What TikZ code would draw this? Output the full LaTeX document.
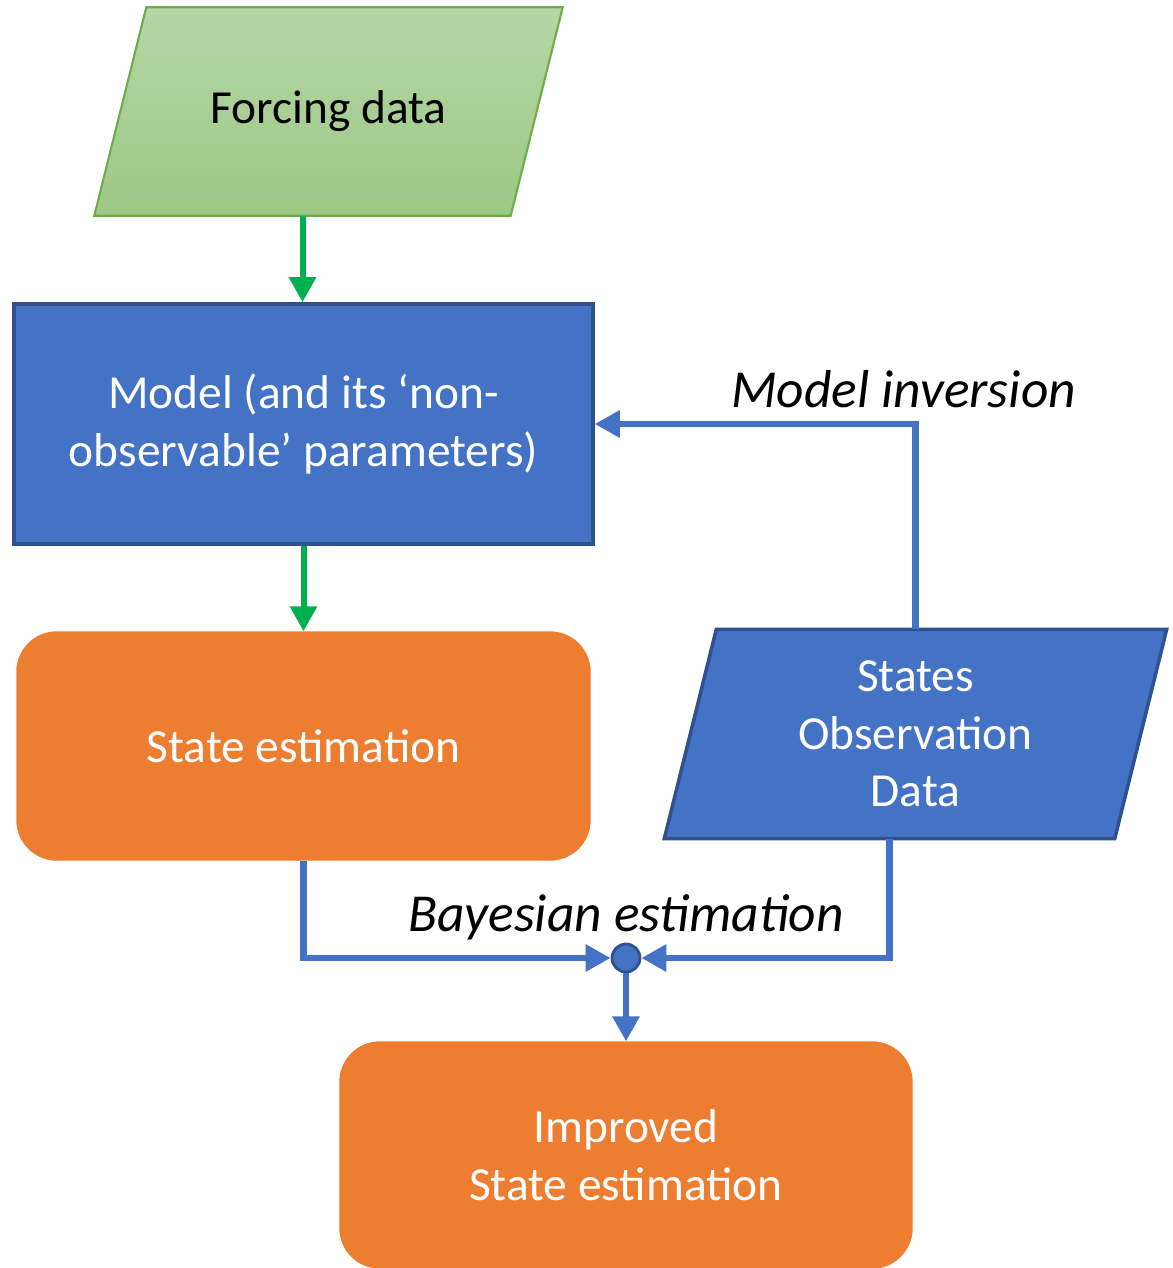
\documentclass[tikz,border=0pt]{standalone}
\usepackage{fontspec}
\setmainfont{Carlito}
\usetikzlibrary{arrows.meta, backgrounds}
\definecolor{daBlue}{HTML}{4472C4}
\definecolor{daBlueEdge}{HTML}{2F528F}
\definecolor{daOrange}{HTML}{ED7D31}
\definecolor{daGreen}{HTML}{00B050}
\definecolor{daLeafTop}{HTML}{B5D6A6}
\definecolor{daLeafBottom}{HTML}{9DC885}
\definecolor{daLeafEdge}{HTML}{70AD47}
\tikzset{
    daBoxBase/.style={
        rectangle,
        font=\fontsize{13.5}{16.4}\selectfont,
        align=center,
        inner sep=4pt
    },
    % Semantic Variants
    forcingFill/.style={top color=daLeafTop, bottom color=daLeafBottom, draw=daLeafEdge, line width=0.6pt},
    observedFill/.style={fill=daBlue, draw=daBlueEdge, line width=1pt},
    data/.style={daBoxBase},
    observed/.style={daBoxBase, text=white},
    model/.style={daBoxBase, fill=daBlue, draw=daBlueEdge, line width=1pt, text=white},
    estimate/.style={daBoxBase, rounded corners=0.4cm, fill=daOrange, draw=daOrange, text=white},
    junction/.style={circle, fill=daBlue, draw=daBlueEdge, line width=0.8pt, minimum size=0.28cm, inner sep=0pt},
    % Arrows
    daArrowBase/.style={-{Triangle[length=0.25cm, width=0.26cm]}},
    daLabel/.style={font=\fontsize{15.2}{18}\selectfont\itshape, inner sep=2pt}
}

\begin{document}
\begin{tikzpicture}[
    feed/.style={daArrowBase, draw=daGreen, line width=0.06cm},
    link/.style={daArrowBase, draw=daBlue, line width=0.065cm}
]
\useasboundingbox (0,0) rectangle (11.72,-12.68);

\node[data, minimum width=4.67cm, minimum height=2.07cm] (forcing) at (3.285,-1.115) {Forcing data};
\node[model, minimum width=5.79cm, minimum height=2.40cm] (model) at (3.035,-4.24) {Model (and its ‘non-\\observable’ parameters)};
\node[estimate, minimum width=5.73cm, minimum height=2.28cm] (state) at (3.035,-7.46) {State estimation};
\node[observed, minimum width=5.01cm, minimum height=2.08cm] (obs) at (9.155,-7.34) {States\\Observation\\Data};
\node[junction, label={[daLabel, yshift=-0.05cm]above:Bayesian estimation}] (fuse) at (6.26,-9.58) {};
\node[estimate, minimum width=5.72cm, minimum height=2.26cm] (improved) at (6.26,-11.55) {Improved\\State estimation};

% slanted data boxes behind their text
\begin{scope}[on background layer]
\draw[forcingFill] ([xshift=0.52cm]forcing.north west) -- (forcing.north east)
    -- ([xshift=-0.52cm]forcing.south east) -- (forcing.south west) -- cycle;
\draw[observedFill] ([xshift=0.52cm]obs.north west) -- (obs.north east)
    -- ([xshift=-0.52cm]obs.south east) -- (obs.south west) -- cycle;
\end{scope}
\coordinate (forcingOut) at ([xshift=-0.26cm]forcing.south);
\coordinate (obsOut) at ([xshift=-0.26cm]obs.south);

\draw[feed] (forcingOut) -- (forcingOut |- model.north);
\draw[feed] (model.south) -- (state.north);
\draw[link] (obs.north) |- node[pos=0.5, above, daLabel, xshift=-0.12cm, yshift=0.06cm] {Model inversion} (model.east);
\draw[link] (state.south) |- (fuse.west);
\draw[link] (obsOut) |- (fuse.east);
\draw[link] (fuse.south) -- (improved.north);
\end{tikzpicture}
\end{document}
